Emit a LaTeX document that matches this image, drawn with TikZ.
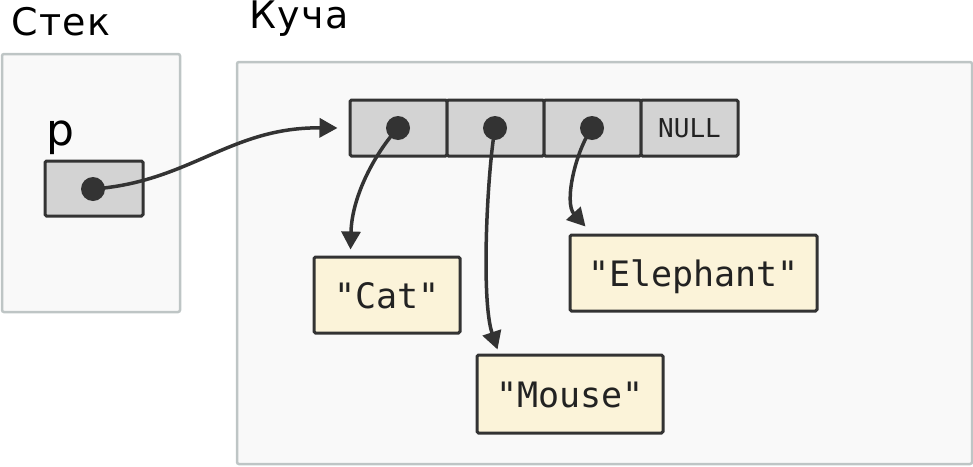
\documentclass[tikz,border=0pt]{standalone}
\usepackage{fontspec}
\setmainfont{DejaVu Sans}
\setmonofont{DejaVu Sans Mono}
\usetikzlibrary{arrows.meta,calc}
\definecolor{ink}{HTML}{333333}
\definecolor{txt}{HTML}{222222}
\definecolor{cellgrey}{HTML}{D3D3D3}
\definecolor{strfill}{HTML}{FBF3D9}
\definecolor{areafill}{HTML}{F9F9F9}
\definecolor{arealine}{HTML}{BEC5C5}
\begin{document}
\begin{tikzpicture}[x=1pt,y=-1pt,
  area/.style={draw=arealine, fill=areafill, line width=2.5pt, rounded corners=2pt, inner sep=0pt},
  cellbox/.style={draw=ink, fill=cellgrey, line width=3pt, rounded corners=1.5pt, inner sep=0pt,
     minimum width=97pt, minimum height=56pt, font=\ttfamily\fontsize{26}{26}\selectfont, text=txt,
     text height=19pt, text depth=0pt},
  strbox/.style={draw=ink, fill=strfill, line width=3pt, rounded corners=1.5pt, inner sep=0pt,
     font=\ttfamily\fontsize{35}{35}\selectfont, text=txt, text height=26pt, text depth=0pt},
  dotmark/.style={circle, fill=ink, inner sep=0pt, minimum size=24pt},
  label/.style={font=\fontsize{38}{38}\selectfont\addfontfeatures{LetterSpace=4}, text=black, inner sep=0pt, anchor=base west},
  arr/.style={draw=ink, line width=3.5pt, -{Triangle[length=18pt,width=19pt]}}
]
\useasboundingbox (0,0) rectangle (973,466);
% containers
\node[area, minimum width=178pt, minimum height=258pt] (stack) at (91,183) {};
\node[area, minimum width=735pt, minimum height=402pt] (heap) at (604.5,263) {};
\node[label] (stacklabel) at (11,35) {Стек};
\node[label] (heaplabel) at (249,28) {Куча};
% pointer p
\node[label, font=\fontsize{44}{44}\selectfont] (plabel) at (46,145) {p};
\node[cellbox, minimum width=98pt, minimum height=55pt] (pbox) at (94,188.5) {};
\node[dotmark] (pdot) at (93,189) {};
% array
\node[cellbox] (c1) at (398.5,128) {};
\node[cellbox] (c2) at (495.5,128) {};
\node[cellbox] (c3) at (592.5,128) {};
\node[cellbox] (c4) at (689.5,128) {NULL};
\node[dotmark] (d1) at (398,128) {};
\node[dotmark] (d2) at (495,128) {};
\node[dotmark] (d3) at (592,128) {};
% strings
\node[strbox, minimum width=146pt, minimum height=76pt] (cat) at (387,295) {"Cat"};
\node[strbox, minimum width=247pt, minimum height=76pt] (eleph) at (693.5,273) {"Elephant"};
\node[strbox, minimum width=186pt, minimum height=78pt] (mouse) at (570,394) {"Mouse"};
\coordinate (catin) at ($(cat.north west)+(38,-6)$);
\coordinate (mousein) at ($(mouse.north west)+(22,-4)$);
\coordinate (elephin) at ($(eleph.north west)+(17,-7)$);
\coordinate (arrin) at ($(c1.west)+(-11,0)$);
% connectors
\draw[arr] (pdot.center) .. controls (190,182) and (230,127) .. (arrin);
\draw[arr] (d1.center) .. controls (376,152) and (352,195) .. (catin);
\draw[arr] (d2.center) .. controls (487,175) and (481,300) .. (mousein);
\draw[arr] (d3.center) .. controls (575,152) and (564,203) .. (elephin);
\end{tikzpicture}
\end{document}
